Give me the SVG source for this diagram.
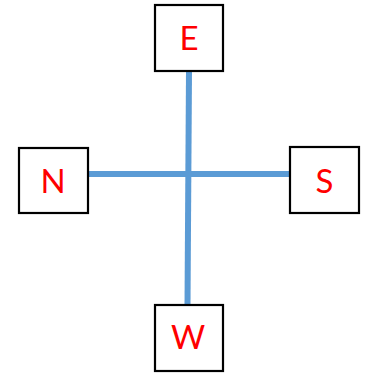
<svg xmlns="http://www.w3.org/2000/svg" width="366" height="374" viewBox="0 0 366 374">
<style>
.box{fill:#fff;stroke:#000;stroke-width:2.2}
.lbl{font-family:Lato,"Liberation Sans",sans-serif;font-size:33px;fill:#ff0000;text-anchor:middle}
.conn{stroke:#5b9bd5;stroke-width:6;fill:none}
</style>
<rect width="366" height="374" fill="#fff"/>
<g id="connectors">
<line class="conn" x1="189" y1="71" x2="187.5" y2="305"/>
<line class="conn" x1="88" y1="174" x2="290" y2="174"/>
</g>
<g id="E"><rect class="box" x="155" y="5" width="68" height="66"/><text class="lbl" x="189" y="50">E</text></g>
<g id="N"><rect class="box" x="19" y="148" width="69" height="65"/><text class="lbl" x="53" y="193">N</text></g>
<g id="S"><rect class="box" x="290" y="147" width="69" height="66"/><text class="lbl" x="324.5" y="193">S</text></g>
<g id="W"><rect class="box" x="155" y="305" width="68" height="66"/><text class="lbl" x="188" y="349">W</text></g>
</svg>
